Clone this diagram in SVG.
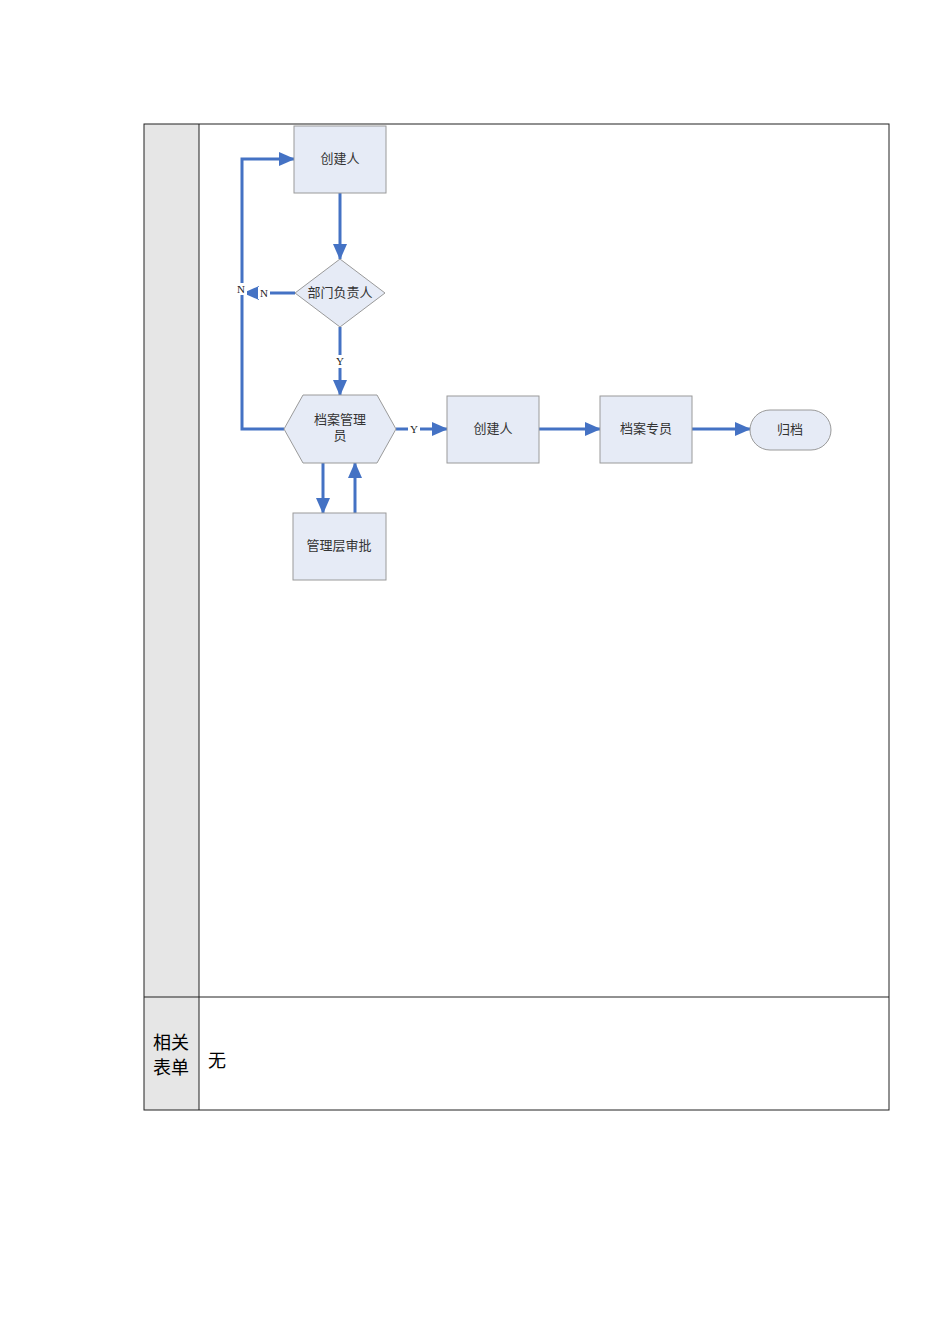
<svg xmlns="http://www.w3.org/2000/svg" width="950" height="1344" viewBox="0 0 950 1344">
<style>
.node{fill:#e6ebf6;stroke:#9a9a9a;stroke-width:1}
.lbl{font-family:"Liberation Sans","Noto Sans CJK SC",sans-serif;font-size:13px;fill:#333;text-anchor:middle}
.conn{fill:none;stroke:#4472c4;stroke-width:3}
.yn{font-family:"Liberation Serif",serif;font-size:11px;fill:#222;text-anchor:middle}
.tbl{font-family:"Liberation Sans","Noto Sans CJK SC",sans-serif;font-size:18px;fill:#000}
</style>
<defs>
<marker id="ah" markerUnits="userSpaceOnUse" markerWidth="16" markerHeight="16" viewBox="0 0 16 16" refX="15" refY="8" orient="auto">
<path d="M0,1 L16,8 L0,15 Z" fill="#4472c4"/>
</marker>
</defs>
<rect x="0" y="0" width="950" height="1344" fill="#fff"/>
<g id="table">
<rect x="144" y="124" width="55" height="986" fill="#e6e6e6"/>
<rect x="144" y="124" width="745" height="986" fill="none" stroke="#222" stroke-width="1"/>
<line x1="199" y1="124" x2="199" y2="1110" stroke="#222" stroke-width="1"/>
<line x1="144" y1="997" x2="889" y2="997" stroke="#222" stroke-width="1"/>
<text class="tbl" x="153" y="1049">相关</text>
<text class="tbl" x="153" y="1074">表单</text>
<text class="tbl" x="208" y="1067">无</text>
</g>
<g id="connectors">
<line class="conn" x1="340" y1="193" x2="340" y2="259" marker-end="url(#ah)"/>
<line class="conn" x1="295" y1="293" x2="244" y2="293" marker-end="url(#ah)"/>
<polyline class="conn" points="284,429 242,429 242,159 294,159" marker-end="url(#ah)"/>
<line class="conn" x1="340" y1="327" x2="340" y2="395" marker-end="url(#ah)"/>
<line class="conn" x1="396" y1="429" x2="447" y2="429" marker-end="url(#ah)"/>
<line class="conn" x1="539" y1="429" x2="600" y2="429" marker-end="url(#ah)"/>
<line class="conn" x1="692" y1="429" x2="750" y2="429" marker-end="url(#ah)"/>
<line class="conn" x1="323" y1="463" x2="323" y2="513" marker-end="url(#ah)"/>
<line class="conn" x1="355" y1="513" x2="355" y2="463" marker-end="url(#ah)"/>
<rect x="258" y="287" width="12" height="12" fill="#fff"/>
<text class="yn" x="264" y="297">N</text>
<rect x="236" y="283" width="11" height="12" fill="#fff"/>
<text class="yn" x="241" y="293">N</text>
<rect x="334" y="355" width="12" height="13" fill="#fff"/>
<text class="yn" x="340" y="365">Y</text>
<rect x="408" y="423" width="12" height="12" fill="#fff"/>
<text class="yn" x="414" y="433">Y</text>
</g>
<g id="n_creator1">
<rect class="node" x="294" y="126" width="92" height="67"/>
<text class="lbl" x="340" y="163">创建人</text>
</g>
<g id="n_dept">
<polygon class="node" points="340,259 385,293 340,327 295,293"/>
<text class="lbl" x="340" y="297">部门负责人</text>
</g>
<g id="n_archive_mgr">
<polygon class="node" points="303,395 377,395 396,429 377,463 303,463 284,429"/>
<text class="lbl" x="340" y="424">档案管理</text>
<text class="lbl" x="340" y="440">员</text>
</g>
<g id="n_mgmt">
<rect class="node" x="293" y="513" width="93" height="67"/>
<text class="lbl" x="339" y="550">管理层审批</text>
</g>
<g id="n_creator2">
<rect class="node" x="447" y="396" width="92" height="67"/>
<text class="lbl" x="493" y="433">创建人</text>
</g>
<g id="n_specialist">
<rect class="node" x="600" y="396" width="92" height="67"/>
<text class="lbl" x="646" y="433">档案专员</text>
</g>
<g id="n_file">
<rect class="node" x="750" y="410" width="81" height="40" rx="20" ry="20"/>
<text class="lbl" x="790" y="434">归档</text>
</g>
</svg>
